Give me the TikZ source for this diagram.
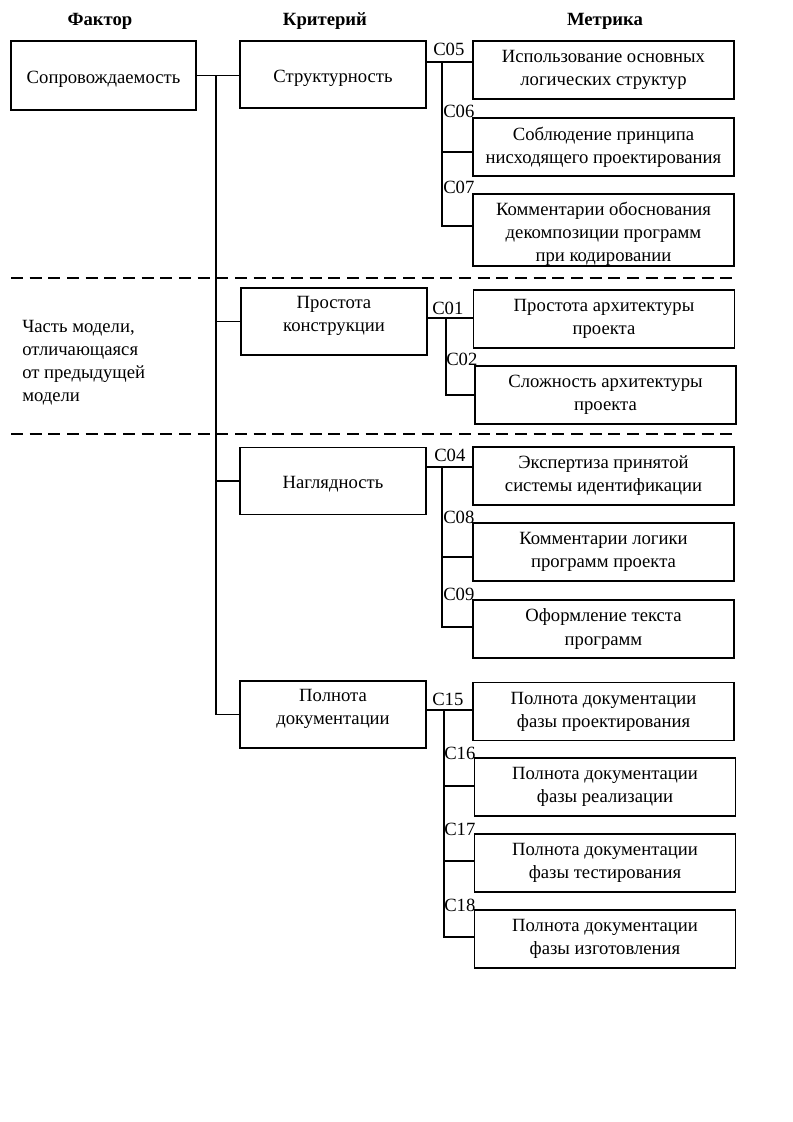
\documentclass[tikz,border=0pt]{standalone}
\usepackage{fontspec}
\setmainfont{Liberation Serif}
\newcommand\myfs{\fontsize{14}{17.25}\selectfont}
\newcommand\lowtxt[2][2.6pt]{\raisebox{-#1}[\height][\depth]{#2}}
\begin{document}
\begin{tikzpicture}[x=0.75pt,y=-0.75pt,
  box/.style={draw, line width=1.1pt, align=center, inner sep=0pt, font=\myfs},
  crit/.style={box, minimum width=186*0.75pt, minimum height=67*0.75pt},
  met/.style={box, minimum width=261*0.75pt, minimum height=58*0.75pt},
  con/.style={line width=1.3pt},
  lab/.style={anchor=base west, inner sep=0pt, font=\myfs},
  head/.style={inner sep=0pt, font=\myfs\bfseries},
  sep/.style={line width=0.9pt, dash pattern=on 9pt off 5pt}]
\useasboundingbox (0,0) rectangle (793,1122);

% headers
\node[head] (h1) at (100,21) {Фактор};
\node[head] (h2) at (325,21) {Критерий};
\node[head] (h3) at (605,21) {Метрика};

% factor
\node[box, minimum width=185*0.75pt, minimum height=69*0.75pt] (fac) at (103.5,75.5) {\lowtxt{Сопровождаемость}};

% criteria
\node[crit] (cs) at (333,74.5) {\lowtxt{Структурность}};
\node[crit] (cp) at (334,321.5) {Простота\\конструкции\\[-6pt]\mbox{}};
\node[crit] (cn) at (333,481) {\lowtxt{Наглядность}};
\node[crit] (cd) at (333,714.5) {Полнота\\документации\\[-6pt]\mbox{}};

% metrics
\node[met] (m05) at (603.5,70) {Использование основных\\логических структур};
\node[met] (m06) at (603.5,147) {Соблюдение принципа\\нисходящего проектирования};
\node[met, minimum height=72*0.75pt] (m07) at (603.5,230) {\lowtxt[3pt]{\begin{tabular}{@{}c@{}}Комментарии обоснования\\декомпозиции программ\\при кодировании\end{tabular}}};
\node[met] (m01) at (604,319) {Простота архитектуры\\проекта};
\node[met] (m02) at (605.5,395) {Сложность архитектуры\\проекта};
\node[met] (m04) at (603.5,476) {Экспертиза принятой\\системы идентификации};
\node[met] (m08) at (603.5,552) {Комментарии логики\\программ проекта};
\node[met] (m09) at (603.5,629) {Оформление текста\\программ};
\node[met] (m15) at (603.5,711.5) {Полнота документации\\фазы проектирования};
\node[met] (m16) at (605,787) {Полнота документации\\фазы реализации};
\node[met] (m17) at (605,863) {Полнота документации\\фазы тестирования};
\node[met] (m18) at (605,939) {Полнота документации\\фазы изготовления};

% left note
\node[anchor=west, align=left, inner sep=0pt, font=\myfs] (note) at (22,363)
  {Часть модели,\\отличающаяся\\от предыдущей\\модели};

% separators
\coordinate (d1a) at (11,278); \coordinate (d1b) at (734,278);
\coordinate (d2a) at (11,434); \coordinate (d2b) at (734,434);
\draw[sep] (d1a) -- (d1b);
\draw[sep] (d2a) -- (d2b);

% factor -> criteria
\coordinate (t0) at (216,75.5);
\draw[con] (fac.east) -- (fac.east -| cs.west);
\draw[con] (t0) |- (cd.west);
\draw[con] (t0 |- cp.west) -- (cp.west);
\draw[con] (t0 |- cn.west) -- (cn.west);

% group 1
\coordinate (g1) at (442,62);
\coordinate (b06) at (442,152);
\coordinate (b07) at (442,226);
\draw[con] (g1 -| cs.east) -- (g1 -| m05.west);
\draw[con] (g1) |- (b07 -| m07.west);
\draw[con] (b06) -- (b06 -| m06.west);

% group 2
\coordinate (g2) at (446,318);
\coordinate (b02) at (446,395);
\draw[con] (g2 -| cp.east) -- (g2 -| m01.west);
\draw[con] (g2) |- (b02 -| m02.west);

% group 3
\coordinate (g3) at (442,467);
\coordinate (b08) at (442,557);
\coordinate (b09) at (442,627);
\draw[con] (g3 -| cn.east) -- (g3 -| m04.west);
\draw[con] (g3) |- (b09 -| m09.west);
\draw[con] (b08) -- (b08 -| m08.west);

% group 4
\coordinate (g4) at (444,710);
\coordinate (b16) at (444,786);
\coordinate (b17) at (444,861);
\coordinate (b18) at (444,937);
\draw[con] (g4 -| cd.east) -- (g4 -| m15.west);
\draw[con] (g4) |- (b18 -| m18.west);
\draw[con] (b16) -- (b16 -| m16.west);
\draw[con] (b17) -- (b17 -| m17.west);

% labels
\node[lab] (l05) at (433,55) {C05};
\node[lab] (l06) at (443,117) {C06};
\node[lab] (l07) at (443,193) {C07};
\node[lab] (l01) at (432,314) {C01};
\node[lab] (l02) at (446,365) {C02};
\node[lab] (l04) at (434,461) {C04};
\node[lab] (l08) at (443,523) {C08};
\node[lab] (l09) at (443,600) {C09};
\node[lab] (l15) at (432,705) {C15};
\node[lab] (l16) at (444,759) {C16};
\node[lab] (l17) at (444,835) {C17};
\node[lab] (l18) at (444,911) {C18};
\end{tikzpicture}
\end{document}
